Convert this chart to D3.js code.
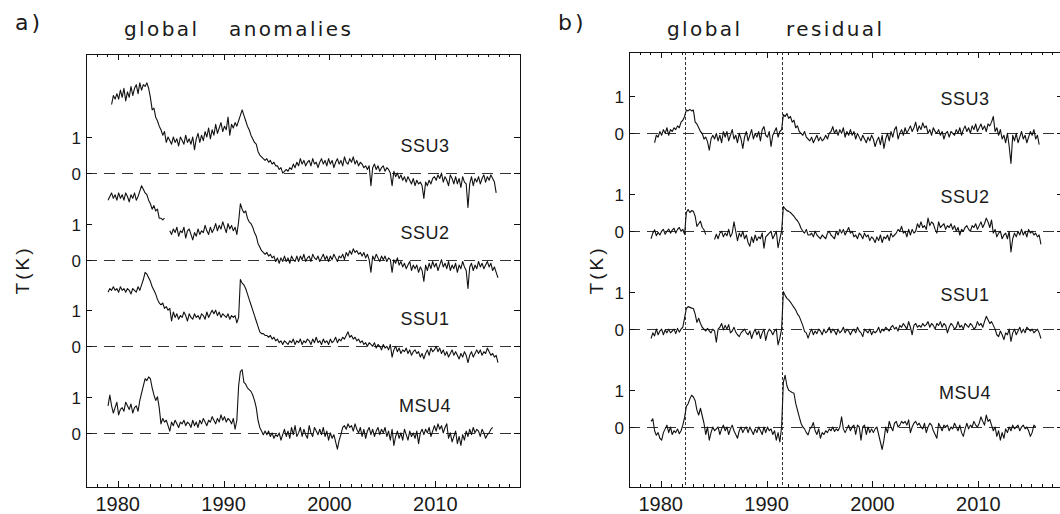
<!DOCTYPE html>
<html>
<head>
<meta charset="utf-8">
<script src="https://cdn.jsdelivr.net/npm/d3@7"></script>
<style>
  body { margin: 0; background: #fff; }
  svg text { font-family: "Liberation Sans", Arial, sans-serif; fill: #1a1a1a; }
  svg text.heading { font-family: "DejaVu Sans", "Liberation Sans", sans-serif; }
</style>
</head>
<body>
<svg id="chart" width="1060" height="514"></svg>
<script>
// Bimonthly global-mean stratospheric temperatures (K), six values per year from 1979.
const startYear = 1979;
const perYear = 6;
const seriesNames = ["SSU3", "SSU2", "SSU1", "MSU4"];
const decadeYears = [1980, 1990, 2000, 2010];
const volcanoYears = [1982.3, 1991.45];   // El Chichón, Pinatubo

// ---- anomalies ----
const ssu3Anom = [
  null, null, 1.90, 2.15, 2.05, 2.20,
  2.05, 2.30, 2.10, 2.35, 2.00, 2.25,
  2.10, 2.40, 2.15, 2.35, 2.45, 2.20,
  2.50, 2.30, 2.45, 2.40, 2.50, 2.35,
  2.10, 1.75, 1.80, 1.55, 1.45, 1.30,
  1.20, 1.05, 1.15, 0.85, 1.00, 0.90,
  0.80, 1.00, 0.85, 0.95, 0.75, 1.00,
  0.90, 0.80, 1.05, 0.85, 0.95, 0.80,
  1.00, 0.65, 0.95, 1.10, 0.85, 1.05,
  0.90, 1.15, 1.00, 1.25, 0.95, 1.20,
  1.05, 1.35, 1.10, 1.25, 1.40, 1.15,
  1.30, 1.20, 1.55, 1.05, 1.35, 1.25,
  1.40, 1.30, 1.45, 1.60, 1.75, 1.60,
  1.45, 1.30, 1.20, 1.05, 0.95, 0.85,
  0.80, 0.60, 0.50, 0.45, 0.40, 0.35,
  0.40, 0.30, 0.35, 0.25, 0.30, 0.20,
  0.20, 0.10, 0.15, 0.00, 0.05, 0.10,
  0.05, 0.15, 0.10, 0.25, 0.15, 0.30,
  0.20, 0.40, 0.25, 0.35, 0.20, 0.30,
  0.35, 0.20, 0.40, 0.25, 0.30, 0.15,
  0.30, 0.40, 0.25, 0.35, 0.20, 0.40,
  0.25, 0.35, 0.15, 0.30, 0.40, 0.25,
  0.35, 0.20, 0.45, 0.30, 0.25, 0.40,
  0.30, 0.45, 0.25, 0.35, 0.20, 0.30,
  0.25, 0.15, 0.20, 0.10, 0.20, -0.35,
  0.15, 0.25, 0.10, 0.20, 0.05, 0.15,
  0.20, 0.05, 0.15, 0.10, 0.00, -0.35,
  0.05, -0.10, 0.00, -0.15, -0.05, -0.20,
  -0.10, -0.25, -0.10, -0.20, -0.30, -0.15,
  -0.35, -0.20, -0.30, -0.25, -0.35, -0.70,
  -0.25, -0.35, -0.20, -0.30, -0.15, -0.10,
  -0.20, -0.05, -0.15, 0.00, -0.25, -0.10,
  -0.20, -0.35, -0.05, -0.15, -0.30, -0.10,
  -0.30, -0.15, -0.40, -0.10, -0.25, -0.30,
  -0.95, -0.30, -0.10, -0.35, -0.15, -0.25,
  -0.10, -0.30, -0.15, -0.05, -0.25, -0.10,
  -0.20, -0.05, -0.15, -0.25, -0.55, null
];
const ssu2Anom = [
  1.65, 1.75, 1.85, 1.70, 1.80, 1.65,
  1.85, 1.70, 1.80, 1.65, 1.85, 1.75,
  1.60, 1.80, 1.70, 1.85, 1.65, 1.75,
  1.90, 2.05, 1.95, 1.85, 1.80, 1.65,
  1.55, 1.40, 1.50, 1.35, 1.40, 1.15,
  1.15, 1.10, 1.15, null, null, 0.80,
  0.70, 0.85, 0.75, 0.90, 0.65, 0.80,
  0.75, 0.90, 0.60, 0.80, 0.85, 0.70,
  0.55, 0.75, 0.65, 0.85, 0.70, 0.80,
  0.75, 0.95, 0.80, 0.70, 0.90, 0.75,
  0.85, 1.00, 0.80, 0.95, 0.85, 1.05,
  0.90, 0.75, 1.00, 0.85, 0.95, 0.80,
  0.90, 0.70, 1.05, 1.55, 1.40, 1.30,
  1.35, 1.15, 1.05, 1.00, 0.90, 0.75,
  0.65, 0.45, 0.35, 0.25, 0.20, 0.15,
  0.20, 0.10, 0.15, 0.05, 0.10, -0.05,
  0.05, -0.10, 0.05, -0.05, 0.10, -0.05,
  0.05, -0.10, 0.10, 0.00, -0.05, 0.10,
  -0.05, 0.10, 0.00, 0.15, -0.05, 0.05,
  0.10, -0.05, 0.15, 0.05, 0.00, 0.10,
  -0.05, 0.05, 0.15, 0.00, 0.10, -0.05,
  0.10, 0.00, 0.15, 0.05, -0.05, 0.10,
  0.05, 0.15, 0.00, 0.20, 0.10, 0.25,
  0.15, 0.30, 0.20, 0.25, 0.15, 0.20,
  0.10, 0.20, 0.05, 0.15, 0.00, -0.35,
  0.10, 0.00, 0.15, 0.05, -0.05, 0.10,
  0.00, 0.10, -0.05, 0.05, 0.00, -0.35,
  0.00, -0.10, 0.05, -0.15, -0.05, -0.20,
  -0.10, -0.25, -0.15, -0.05, -0.30, -0.15,
  -0.25, -0.15, -0.35, -0.20, -0.30, -0.60,
  -0.15, -0.30, -0.10, -0.25, -0.05, -0.20,
  -0.10, -0.30, -0.15, 0.00, -0.20, -0.10,
  -0.25, -0.05, -0.30, -0.15, -0.25, -0.10,
  -0.35, -0.15, -0.25, -0.05, -0.20, -0.30,
  -0.80, -0.20, -0.10, -0.30, -0.15, -0.25,
  -0.05, -0.20, -0.10, -0.25, -0.15, -0.05,
  -0.20, -0.10, -0.30, -0.20, -0.35, -0.50
];
const ssu1Anom = [
  1.50, 1.60, 1.55, 1.65, 1.55, 1.60,
  1.50, 1.65, 1.55, 1.60, 1.50, 1.60,
  1.55, 1.45, 1.60, 1.55, 1.50, 1.65,
  1.55, 1.70, 1.85, 2.05, 2.00, 1.90,
  1.80, 1.65, 1.55, 1.45, 1.30, 1.20,
  1.15, 1.20, 1.05, 1.10, 1.00, 1.05,
  0.70, 0.95, 0.80, 0.90, 0.75, 0.85,
  0.80, 0.95, 0.85, 0.70, 0.90, 0.80,
  0.75, 0.90, 0.80, 0.85, 0.75, 0.90,
  0.85, 0.75, 0.95, 0.80, 0.90, 1.00,
  0.90, 1.00, 0.85, 0.95, 0.80, 0.90,
  0.85, 0.80, 0.90, 0.75, 0.85, 0.80,
  0.85, 0.65, 0.80, 1.85, 1.75, 1.70,
  1.60, 1.45, 1.30, 1.15, 1.00, 0.85,
  0.70, 0.55, 0.40, 0.35, 0.35, 0.30,
  0.30, 0.25, 0.30, 0.20, 0.25, 0.15,
  0.20, 0.10, 0.15, 0.05, 0.15, 0.10,
  0.05, 0.15, 0.10, 0.20, 0.05, 0.15,
  0.10, 0.20, 0.05, 0.15, 0.10, 0.20,
  0.15, 0.05, 0.20, 0.10, 0.25, 0.10,
  0.15, 0.05, 0.20, 0.10, 0.15, 0.05,
  0.20, 0.10, 0.15, 0.25, 0.10, 0.20,
  0.15, 0.25, 0.20, 0.30, 0.40, 0.25,
  0.30, 0.20, 0.25, 0.15, 0.20, 0.10,
  0.15, 0.05, 0.10, 0.00, 0.10, 0.05,
  0.00, 0.10, -0.05, 0.05, 0.00, -0.10,
  0.05, -0.05, 0.00, -0.10, 0.05, -0.30,
  -0.10, 0.00, -0.15, -0.05, -0.20, -0.10,
  -0.15, -0.05, -0.20, -0.10, -0.25, -0.15,
  -0.10, -0.20, -0.15, -0.30, -0.20, -0.35,
  -0.20, -0.10, -0.25, -0.05, -0.15, -0.10,
  0.00, -0.15, -0.05, -0.20, -0.10, -0.25,
  -0.15, -0.30, -0.20, -0.10, -0.25, -0.15,
  -0.25, -0.35, -0.20, -0.30, -0.15, -0.25,
  -0.45, -0.25, -0.15, -0.30, -0.20, -0.10,
  -0.20, -0.10, -0.25, -0.15, -0.20, -0.05,
  -0.15, -0.25, -0.20, -0.30, -0.25, -0.45
];
const msu4Anom = [
  0.75, 1.05, 0.75, 0.55, 0.70, 0.85,
  0.50, 0.65, 0.70, 0.60, 0.85, 0.75,
  0.65, 0.80, 0.55, 0.70, 0.75, 0.60,
  0.90, 1.10, 1.30, 1.50, 1.45, 1.55,
  1.50, 1.25, 1.05, 0.90, 1.00, 0.70,
  0.25, 0.40, 0.30, 0.35, 0.20, 0.05,
  0.30, 0.20, 0.35, 0.25, 0.15, 0.30,
  0.25, 0.35, 0.20, 0.30, 0.25, 0.15,
  0.35, 0.20, 0.30, 0.15, 0.35, 0.25,
  0.40, 0.30, 0.20, 0.35, 0.30, 0.45,
  0.35, 0.25, 0.40, 0.30, 0.50, 0.35,
  0.45, 0.30, 0.40, 0.35, 0.25, 0.40,
  0.10, 0.35, 1.30, 1.70, 1.75, 1.40,
  1.35, 1.25, 1.20, 1.15, 1.05, 0.90,
  0.70, 0.35, 0.15, 0.05, -0.05, 0.05,
  -0.05, 0.05, -0.10, 0.00, -0.15, -0.05,
  -0.10, 0.00, -0.20, -0.05, 0.10, -0.10,
  0.05, -0.15, 0.15, -0.05, 0.20, -0.10,
  0.00, 0.15, -0.10, 0.10, -0.05, -0.15,
  0.20, 0.00, -0.10, 0.15, 0.05, -0.05,
  0.10, -0.05, 0.15, -0.10, 0.05, -0.20,
  0.00, -0.15, -0.05, -0.25, -0.45, -0.20,
  -0.05, 0.15, 0.20, 0.10, 0.25, 0.15,
  0.20, 0.05, 0.25, 0.10, 0.00, 0.15,
  -0.10, 0.10, -0.15, 0.05, 0.15, -0.05,
  0.10, -0.10, 0.05, 0.15, -0.05, 0.10,
  0.00, 0.15, -0.10, 0.05, -0.20, 0.10,
  -0.35, -0.10, 0.05, -0.15, 0.00, -0.20,
  0.10, -0.05, -0.20, 0.05, -0.10, 0.00,
  -0.15, 0.05, -0.30, 0.00, 0.10, -0.05,
  0.10, 0.00, 0.15, -0.10, 0.05, 0.20,
  0.05, 0.25, 0.10, 0.20, 0.00, 0.15,
  0.25, -0.15, 0.00, -0.25, -0.10, 0.05,
  -0.30, -0.10, -0.35, -0.05, -0.20, 0.05,
  -0.10, 0.10, -0.05, 0.15, 0.00, 0.10,
  0.05, -0.10, 0.10, 0.00, -0.15, -0.05,
  0.00, 0.10, 0.15, null, null, null
];

// ---- residuals after removing trend and regressors ----
const ssu3Resid = [
  null, null, -0.25, -0.05, -0.10, 0.05,
  -0.05, 0.10, 0.00, 0.15, -0.05, 0.10,
  0.05, 0.15, 0.10, 0.20, 0.15, 0.30,
  0.35, 0.45, 0.62, 0.60, 0.64, 0.60,
  0.62, 0.30, 0.25, 0.15, 0.05, 0.00,
  -0.15, -0.10, -0.22, -0.45, -0.15, -0.05,
  -0.15, 0.00, -0.20, -0.05, -0.25, 0.05,
  -0.10, 0.05, -0.20, -0.05, 0.10, -0.15,
  -0.05, -0.25, 0.00, -0.15, -0.40, -0.10,
  0.05, -0.20, -0.05, 0.10, -0.15, 0.00,
  -0.10, 0.05, -0.20, 0.10, 0.18, -0.05,
  -0.10, 0.05, -0.35, -0.05, 0.05, 0.15,
  -0.10, 0.05, 0.10, 0.50, 0.45, 0.53,
  0.40, 0.45, 0.30, 0.35, 0.15, 0.20,
  0.05, 0.00, -0.05, 0.05, -0.10, -0.15,
  -0.20, -0.10, -0.25, -0.15, -0.05, -0.20,
  -0.10, -0.20, -0.15, -0.05, -0.15, 0.00,
  0.05, 0.18, 0.00, 0.10, -0.05, 0.10,
  0.00, 0.15, -0.10, 0.05, -0.05, 0.10,
  -0.05, 0.05, -0.15, 0.00, -0.10, -0.20,
  -0.05, -0.15, -0.25, -0.10, -0.20, -0.05,
  -0.15, -0.35, -0.20, -0.10, -0.30, -0.05,
  -0.40, -0.15, 0.00, -0.20, 0.05, -0.10,
  0.10, 0.18, -0.15, 0.00, 0.10, -0.05,
  0.15, 0.00, 0.10, 0.20, 0.05, 0.15,
  0.30, 0.05, 0.20, 0.10, 0.28, 0.15,
  0.20, 0.00, 0.10, -0.05, 0.15, 0.05,
  0.00, 0.10, -0.05, 0.05, -0.15, 0.00,
  0.05, -0.10, 0.05, 0.00, -0.05, 0.10,
  0.00, 0.15, -0.05, 0.10, 0.20, 0.05,
  0.15, 0.00, 0.20, 0.10, 0.25, 0.05,
  0.15, 0.25, 0.10, 0.20, 0.05, 0.25,
  0.20, 0.30, 0.45, 0.05, 0.15, -0.05,
  0.10, -0.15, -0.05, -0.25, 0.00, -0.35,
  -0.80, -0.05, -0.20, 0.00, -0.25, -0.10,
  0.05, -0.15, -0.05, -0.25, -0.10, 0.05,
  -0.05, 0.10, -0.15, -0.05, -0.30, null
];
const ssu2Resid = [
  -0.20, -0.05, 0.04, -0.12, -0.03, -0.10,
  0.00, 0.05, -0.08, 0.00, 0.06, -0.05,
  0.03, 0.08, -0.05, 0.05, 0.10, 0.00,
  0.05, -0.08, 0.50, 0.58, 0.50, 0.55,
  0.53, 0.40, 0.13, 0.20, 0.27, 0.10,
  0.04, -0.09, null, null, null, null,
  -0.22, -0.08, -0.20, -0.05, 0.00, -0.15,
  -0.05, -0.12, 0.05, -0.15, -0.05, 0.25,
  0.00, -0.25, -0.05, -0.15, 0.00, -0.20,
  -0.10, -0.30, -0.40, -0.15, -0.30, -0.10,
  -0.25, -0.15, -0.20, -0.05, -0.45, -0.15,
  -0.10, -0.05, 0.00, -0.20, -0.10, 0.00,
  -0.44, -0.20, 0.00, 0.66, 0.60, 0.55,
  0.53, 0.50, 0.45, 0.40, 0.33, 0.28,
  0.20, 0.08, 0.00, -0.05, 0.05, -0.10,
  -0.10, -0.05, -0.15, 0.00, -0.10, -0.15,
  -0.20, -0.10, -0.15, -0.20, -0.05, 0.00,
  -0.10, -0.15, -0.20, 0.00, -0.10, 0.05,
  -0.05, 0.05, -0.10, 0.00, 0.10, -0.05,
  0.00, -0.15, -0.10, -0.20, -0.05, -0.10,
  -0.20, -0.05, -0.15, -0.10, -0.25, -0.15,
  -0.20, -0.30, -0.15, -0.25, -0.10, -0.30,
  -0.15, -0.20, -0.10, -0.25, -0.05, -0.15,
  -0.10, -0.05, 0.05, 0.00, 0.13, -0.05,
  0.00, -0.15, 0.05, -0.10, 0.05, -0.05,
  0.00, 0.20, 0.10, 0.25, 0.10, 0.15,
  0.05, 0.35, 0.15, 0.25, 0.20, 0.05,
  -0.05, 0.25, 0.10, 0.15, 0.20, 0.05,
  0.15, 0.10, 0.20, 0.05, 0.15, 0.00,
  0.10, -0.10, 0.05, 0.00, 0.10, 0.15,
  0.05, 0.00, 0.15, 0.10, 0.20, 0.05,
  0.15, 0.25, 0.10, 0.20, 0.35, 0.25,
  0.10, 0.30, -0.05, 0.05, -0.15, -0.05,
  0.00, -0.20, -0.10, -0.05, -0.20, 0.00,
  -0.55, -0.20, -0.05, -0.15, 0.00, -0.10,
  0.05, -0.10, 0.00, -0.15, 0.05, -0.05,
  0.00, -0.10, -0.05, -0.15, -0.10, -0.35
];
const ssu1Resid = [
  -0.25, -0.10, -0.18, 0.00, -0.15, -0.05,
  0.00, -0.15, -0.02, -0.10, 0.00, -0.10,
  -0.05, 0.00, -0.12, 0.02, -0.08, 0.00,
  0.05, 0.30, 0.55, 0.60, 0.58, 0.56,
  0.55, 0.40, 0.18, 0.29, 0.15, 0.05,
  0.00, -0.05, 0.02, -0.05, -0.10, 0.00,
  -0.05, -0.35, 0.00, 0.05, 0.15, -0.02,
  0.10, 0.00, 0.12, -0.10, -0.05, 0.05,
  -0.08, -0.15, -0.20, -0.10, -0.05, 0.00,
  -0.10, -0.15, -0.05, -0.25, -0.10, 0.00,
  -0.15, -0.05, -0.25, -0.10, 0.00, -0.30,
  -0.10, 0.00, -0.05, -0.15, -0.05, 0.00,
  -0.42, -0.24, 0.00, 1.00, 0.90, 0.82,
  0.78, 0.72, 0.65, 0.58, 0.51, 0.40,
  0.34, 0.22, 0.10, -0.06, -0.10, -0.24,
  -0.10, 0.00, -0.15, -0.05, -0.12, 0.00,
  -0.05, -0.15, 0.00, -0.10, -0.05, 0.05,
  -0.10, 0.00, -0.05, -0.15, 0.00, -0.10,
  -0.05, 0.05, -0.10, 0.00, -0.05, -0.15,
  -0.05, 0.00, -0.10, 0.05, -0.05, -0.10,
  -0.20, 0.00, -0.05, -0.10, 0.00, -0.15,
  -0.05, -0.10, -0.05, 0.05, -0.10, 0.00,
  -0.05, 0.05, 0.00, -0.05, 0.05, 0.10,
  0.00, 0.05, -0.05, 0.10, 0.05, 0.15,
  0.08, 0.00, 0.20, 0.05, -0.15, 0.10,
  0.15, 0.05, 0.10, 0.05, 0.15, 0.08,
  0.12, 0.20, 0.05, 0.15, 0.10, 0.00,
  0.15, 0.10, 0.20, 0.05, 0.15, 0.10,
  -0.10, 0.05, 0.15, 0.10, 0.00, 0.05,
  0.20, 0.05, 0.10, 0.00, 0.15, 0.10,
  0.05, 0.15, 0.10, 0.00, 0.05, 0.20,
  0.10, 0.15, 0.05, 0.20, 0.34, 0.25,
  0.15, 0.20, 0.10, 0.00, -0.15, -0.20,
  -0.05, -0.15, -0.28, -0.10, -0.15, 0.00,
  -0.33, -0.10, 0.00, -0.15, -0.05, 0.05,
  -0.10, 0.00, -0.10, 0.05, 0.00, -0.05,
  0.00, -0.10, -0.05, 0.00, -0.10, -0.25
];
const msu4Resid = [
  0.15, 0.22, -0.10, -0.22, -0.15, -0.30,
  -0.35, -0.15, -0.05, 0.05, -0.15, 0.00,
  -0.20, -0.10, -0.15, -0.05, -0.18, -0.10,
  0.05, 0.25, 0.55, 0.62, 0.75, 0.85,
  0.80, 0.70, 0.45, 0.32, 0.50, 0.30,
  0.10, -0.20, 0.00, -0.35, -0.15, 0.00,
  -0.10, -0.05, 0.00, -0.20, -0.05, 0.05,
  -0.10, 0.00, -0.20, -0.05, 0.05, -0.10,
  -0.20, -0.30, -0.10, 0.00, -0.15, -0.05,
  0.00, -0.15, 0.00, -0.10, -0.20, -0.05,
  -0.15, 0.00, -0.10, -0.20, 0.00, -0.15,
  0.00, -0.10, -0.05, -0.20, -0.10, -0.35,
  -0.15, -0.40, 0.00, 1.20, 1.38, 1.10,
  0.98, 0.95, 0.92, 0.90, 0.63, 0.45,
  0.27, 0.10, 0.00, -0.05, -0.15, -0.21,
  -0.05, 0.00, 0.12, -0.10, -0.20, -0.05,
  -0.30, -0.15, -0.20, -0.10, -0.15, -0.05,
  -0.10, 0.00, -0.12, -0.05, -0.10, 0.00,
  0.27, -0.05, -0.15, -0.05, 0.05, -0.10,
  0.00, 0.05, -0.20, 0.05, 0.00, -0.35,
  0.00, 0.05, -0.20, 0.00, -0.15, -0.05,
  -0.15, -0.05, 0.00, -0.20, -0.40, -0.60,
  -0.35, 0.00, -0.15, 0.15, 0.00, -0.10,
  0.10, 0.15, 0.00, 0.05, 0.15, 0.10,
  0.15, 0.05, 0.19, -0.15, 0.00, 0.10,
  0.15, 0.05, 0.10, 0.00, -0.05, 0.10,
  -0.15, 0.00, 0.10, 0.05, -0.10, -0.20,
  -0.30, 0.10, 0.00, -0.10, 0.05, 0.00,
  0.05, -0.10, 0.00, -0.05, 0.10, 0.00,
  -0.10, 0.05, -0.15, -0.25, -0.05, 0.10,
  -0.05, 0.05, 0.00, 0.15, 0.05, 0.00,
  0.10, 0.27, 0.15, 0.05, 0.32, 0.15,
  0.20, 0.05, -0.10, 0.00, -0.25, -0.10,
  -0.35, -0.15, -0.30, -0.05, -0.15, 0.00,
  -0.10, 0.05, -0.05, 0.00, 0.05, -0.10,
  0.00, 0.05, -0.05, 0.00, -0.10, -0.25,
  -0.15, 0.05, 0.00, null, null, null
];

// ---- panel layout ----
const panels = [
  {
    letter: "a)", words: ["global", "anomalies"],
    letterX: 15, wordX: [124, 229],
    left: 86, right: 520, top: 54, bottom: 487,
    yDomain: [-1.5, 10.5], step: 2.4,
    series: [ssu3Anom, ssu2Anom, ssu1Anom, msu4Anom],
    labelX: 425, labelLift: 0.58, unitX: 29, volcanoes: false
  },
  {
    letter: "b)", words: ["global", "residual"],
    letterX: 558, wordX: [667, 786],
    left: 629, right: 1063, top: 52, bottom: 487,
    yDomain: [-1.6, 10.0], step: 2.61,
    series: [ssu3Resid, ssu2Resid, ssu1Resid, msu4Resid],
    labelX: 965, labelLift: 0.76, unitX: 603, volcanoes: true
  }
];

const svg = d3.select("#chart");
const ink = "#111";

panels.forEach((p, pi) => {
  const x = d3.scaleLinear().domain([1977, 2018]).range([p.left, p.right]);
  const y = d3.scaleLinear().domain(p.yDomain).range([p.bottom, p.top]);
  const g = svg.append("g");

  const clipId = "plot-clip-" + pi;
  svg.append("clipPath").attr("id", clipId)
    .append("rect")
    .attr("x", p.left).attr("y", p.top)
    .attr("width", p.right - p.left).attr("height", p.bottom - p.top);

  // panel letter and title
  g.append("text").attr("class", "heading")
    .attr("x", p.letterX).attr("y", 30)
    .style("font-size", "22px").style("letter-spacing", "3px")
    .text(p.letter);
  p.words.forEach((w, i) => {
    g.append("text").attr("class", "heading")
      .attr("x", p.wordX[i]).attr("y", 36)
      .style("font-size", "20px").style("letter-spacing", "2.4px")
      .text(w);
  });

  // y-axis unit
  g.append("text")
    .attr("transform", `translate(${p.unitX},270) rotate(-90)`)
    .attr("text-anchor", "middle")
    .style("font-size", "19px").style("letter-spacing", "3px")
    .text("T(K)");

  // frame
  g.append("rect")
    .attr("x", p.left + 0.5).attr("y", p.top + 0.5)
    .attr("width", p.right - p.left).attr("height", p.bottom - p.top)
    .attr("fill", "none").attr("stroke", ink).attr("stroke-width", 1);

  // year ticks on bottom and top edges, pointing inward
  const years = d3.range(1978, 2018);
  const xTick = g.append("g").attr("stroke", ink).attr("stroke-width", 1);
  years.forEach(yr => {
    const len = decadeYears.includes(yr) ? 6 : 3;
    const xp = Math.round(x(yr)) + 0.5;
    xTick.append("line").attr("x1", xp).attr("x2", xp)
      .attr("y1", p.bottom).attr("y2", p.bottom - len);
    xTick.append("line").attr("x1", xp).attr("x2", xp)
      .attr("y1", p.top).attr("y2", p.top + len);
  });
  decadeYears.forEach(yr => {
    g.append("text").attr("x", x(yr)).attr("y", 511)
      .attr("text-anchor", "middle").style("font-size", "20px")
      .text(yr);
  });

  // volcanic eruption markers
  if (p.volcanoes) {
    volcanoYears.forEach(vy => {
      const xp = Math.round(x(vy)) + 0.5;
      g.append("line").attr("x1", xp).attr("x2", xp)
        .attr("y1", p.top).attr("y2", p.bottom)
        .attr("stroke", "#333").attr("stroke-width", 1)
        .attr("stroke-dasharray", "3,2");
    });
  }

  const plot = g.append("g").attr("clip-path", `url(#${clipId})`);

  p.series.forEach((vals, si) => {
    const off = p.step * (p.series.length - 1 - si);
    const y0 = Math.round(y(off)) + 0.5;

    // zero reference line
    plot.append("line")
      .attr("x1", p.left).attr("x2", p.right)
      .attr("y1", y0).attr("y2", y0)
      .attr("stroke", "#333").attr("stroke-width", 1)
      .attr("stroke-dasharray", "11,7");

    // 0 and 1 ticks with labels
    [0, 1].forEach(v => {
      const yp = Math.round(y(off + v)) + 0.5;
      g.append("line").attr("x1", p.left).attr("x2", p.left + 6)
        .attr("y1", yp).attr("y2", yp).attr("stroke", ink);
      g.append("line").attr("x1", p.right - 6).attr("x2", p.right)
        .attr("y1", yp).attr("y2", yp).attr("stroke", ink);
      g.append("text").attr("x", p.left - 5).attr("y", yp)
        .attr("dy", "0.36em").attr("text-anchor", "end")
        .style("font-size", "17px")
        .text(String(v));
    });

    // time series
    const line = d3.line()
      .defined(v => v != null)
      .x((v, i) => x(startYear + (i + 0.5) / perYear))
      .y(v => y(off + v));
    plot.append("path")
      .datum(vals)
      .attr("fill", "none")
      .attr("stroke", ink)
      .attr("stroke-width", 1.1)
      .attr("stroke-linejoin", "round")
      .attr("d", line);

    // series name
    g.append("text")
      .attr("x", p.labelX).attr("y", y(off + p.labelLift))
      .attr("text-anchor", "middle")
      .style("font-size", "18px").style("letter-spacing", "0.5px")
      .text(seriesNames[si]);
  });
});
</script>
</body>
</html>
